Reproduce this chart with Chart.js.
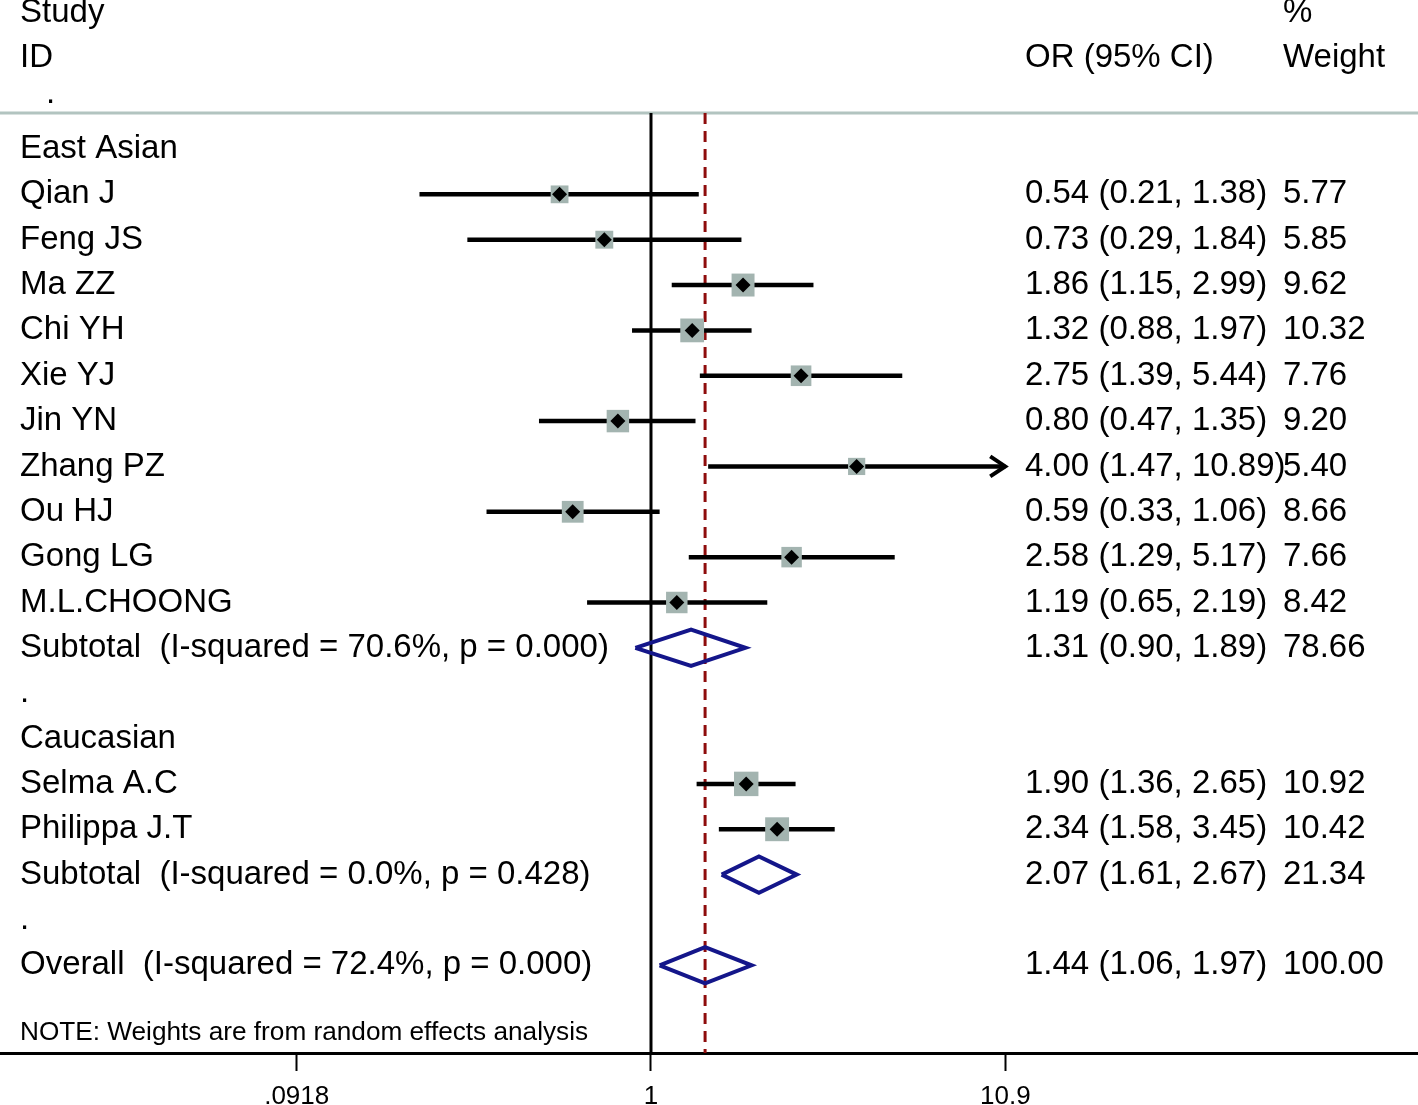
<!DOCTYPE html>
<html><head><meta charset="utf-8">
<script src="https://cdn.jsdelivr.net/npm/chart.js@4.4.1/dist/chart.umd.min.js"></script>
<style>html,body{margin:0;padding:0;background:#fff;overflow:hidden}#wrap{width:1418px;height:1105px;position:relative}</style>
</head><body><div id="wrap"><canvas id="c" width="1418" height="1105"></canvas></div>
<script>
// ---------- data ----------
const studies = ['Qian J','Feng JS','Ma ZZ','Chi YH','Xie YJ','Jin YN','Zhang PZ','Ou HJ','Gong LG','M.L.CHOONG','Selma A.C','Philippa J.T'];
const studyRows = [1,2,3,4,5,6,7,8,9,10,14,15];
const orValues = [0.54,0.73,1.86,1.32,2.75,0.80,4.00,0.59,2.58,1.19,1.90,2.34];
const ciLower = [0.21,0.29,1.15,0.88,1.39,0.47,1.47,0.33,1.29,0.65,1.36,1.58];
const ciUpper = [1.38,1.84,2.99,1.97,5.44,1.35,10.89,1.06,5.17,2.19,2.65,3.45];
const weights = [5.77,5.85,9.62,10.32,7.76,9.20,5.40,8.66,7.66,8.42,10.92,10.42];
const pooledLabels = ['Subtotal  (I-squared = 70.6%, p = 0.000)','Subtotal  (I-squared = 0.0%, p = 0.428)','Overall  (I-squared = 72.4%, p = 0.000)'];
const pooledRows = [11,16,18];
const pooledOR = [1.31,2.07,1.44];
const pooledLower = [0.90,1.61,1.06];
const pooledUpper = [1.89,2.67,1.97];
const pooledWeights = [78.66,21.34,100.00];
const groupLabels = ['East Asian','Caucasian'];
const groupRows = [0,13];
const blankDotRows = [12,17];
const tickValues = [0.0918,1,10.9];
const tickLabels = ['.0918','1','10.9'];
const overallOR = 1.44;
const noteText = 'NOTE: Weights are from random effects analysis';

// ---------- layout constants ----------
const FONT = '"Liberation Sans", Arial, Helvetica, sans-serif';
const Y_MIN = -3.2855, Y_MAX = 19.934;
const HEADER_LINE_Y = -0.794;
const X_MIN = 0.012424, X_MAX = 175.95;
const COL_STUDY = 20, COL_OR = 1025, COL_W = 1283;
const DIAMOND_HALF = 0.4;

const fmt = v => v.toFixed(2);

// ---------- datasets ----------
const ds = [];
ds.push({label:'est', data: orValues.map((v,i)=>({x:v,y:studyRows[i]})), pointStyle:'rectRot', pointRadius:7.5,
  backgroundColor:'#000', borderWidth:0, showLine:false, order:1});
ds.push({label:'wt', data: orValues.map((v,i)=>({x:v,y:studyRows[i]})), pointStyle:'rect',
  pointRadius: weights.map(w=>7.4*Math.sqrt(w)/1.4142), backgroundColor:'#a3b4b0', borderWidth:0, showLine:false, order:2});
studies.forEach((s,i)=>{
  ds.push({label:'ci'+i, data:[{x:ciLower[i],y:studyRows[i]},{x:ciUpper[i],y:studyRows[i]}], showLine:true,
    borderColor:'#000', borderWidth:4.5, pointRadius:0, order:3});
});
pooledOR.forEach((v,i)=>{
  const r = pooledRows[i];
  ds.push({label:'pool'+i, data:[{x:pooledLower[i],y:r},{x:v,y:r-DIAMOND_HALF},{x:pooledUpper[i],y:r},{x:v,y:r+DIAMOND_HALF},{x:pooledLower[i],y:r}],
    showLine:true, borderColor:'#14168a', borderWidth:4, pointRadius:0, borderJoinStyle:'miter', order:4});
});
ds.push({label:'overall', data:[{x:overallOR,y:HEADER_LINE_Y},{x:overallOR,y:Y_MAX}], showLine:true,
  borderColor:'#8e0c0c', borderWidth:3, borderDash:[11,7], pointRadius:0, order:5});
ds.push({label:'null', data:[{x:1,y:HEADER_LINE_Y},{x:1,y:Y_MAX}], showLine:true,
  borderColor:'#000', borderWidth:3, pointRadius:0, order:6});
ds.push({label:'hdr', data:[{x:X_MIN,y:HEADER_LINE_Y},{x:X_MAX,y:HEADER_LINE_Y}], showLine:true,
  borderColor:'#b2c4c0', borderWidth:3, pointRadius:0, order:7});

// ---------- text plugin ----------
const textPlugin = {
  id:'forestText',
  afterDatasetsDraw(chart){
    const ctx = chart.ctx, xs = chart.scales.x, ys = chart.scales.y;
    const Y = v => ys.getPixelForValue(v);
    ctx.save();
    ctx.fillStyle = '#000';
    ctx.textBaseline = 'middle';
    ctx.textAlign = 'left';
    ctx.font = '33px ' + FONT;
    ctx.fillText('Study', COL_STUDY, Y(-3));
    ctx.fillText('ID', COL_STUDY, Y(-2));
    ctx.fillText('.', 46, Y(-1.22));
    ctx.fillText('%', COL_W, Y(-3));
    ctx.fillText('OR (95% CI)', COL_OR, Y(-2));
    ctx.fillText('Weight', COL_W, Y(-2));
    groupLabels.forEach((g,i)=>ctx.fillText(g, COL_STUDY, Y(groupRows[i])));
    blankDotRows.forEach(r=>ctx.fillText('.', COL_STUDY, Y(r)));
    studies.forEach((s,i)=>{
      const y = Y(studyRows[i]);
      ctx.fillText(s, COL_STUDY, y);
      ctx.fillText(fmt(orValues[i])+' ('+fmt(ciLower[i])+', '+fmt(ciUpper[i])+')', COL_OR, y);
      ctx.fillText(fmt(weights[i]), COL_W, y);
    });
    pooledLabels.forEach((s,i)=>{
      const y = Y(pooledRows[i]);
      ctx.fillText(s, COL_STUDY, y);
      ctx.fillText(fmt(pooledOR[i])+' ('+fmt(pooledLower[i])+', '+fmt(pooledUpper[i])+')', COL_OR, y);
      ctx.fillText(fmt(pooledWeights[i]), COL_W, y);
    });
    ctx.font = '26.2px ' + FONT;
    ctx.fillText(noteText, COL_STUDY, Y(19.49));
    ctx.strokeStyle = '#000';
    ctx.lineWidth = 4;
    ctx.lineJoin = 'miter';
    studies.forEach((s,i)=>{
      if (ciUpper[i] >= tickValues[tickValues.length-1] - 0.05) {
        const x = xs.getPixelForValue(ciUpper[i]), y = Y(studyRows[i]);
        ctx.beginPath();
        ctx.moveTo(x-15, y-10); ctx.lineTo(x, y); ctx.lineTo(x-15, y+10);
        ctx.stroke();
      }
    });
    ctx.restore();
  }
};

new Chart(document.getElementById('c'), {
  type:'scatter',
  data:{datasets:ds},
  options:{
    responsive:false, animation:false, events:[],
    layout:{padding:0, autoPadding:false},
    plugins:{legend:{display:false}, tooltip:{enabled:false}},
    scales:{
      x:{type:'logarithmic', position:'bottom', min:X_MIN, max:X_MAX,
        afterBuildTicks: s => { s.ticks = tickValues.map(v=>({value:v})); },
        afterFit: s => { s.height = 52; },
        ticks:{callback:(v,i)=>tickLabels[i], font:{size:26, family:FONT}, color:'#000', padding:10, maxRotation:0, autoSkip:false},
        grid:{display:true, drawOnChartArea:false, drawTicks:true, tickLength:18, tickWidth:2, tickColor:'#000', color:'#000'},
        border:{display:true, color:'#000', width:3}
      },
      y:{type:'linear', display:false, reverse:true, min:Y_MIN, max:Y_MAX}
    }
  },
  plugins:[textPlugin]
});
</script></body></html>
